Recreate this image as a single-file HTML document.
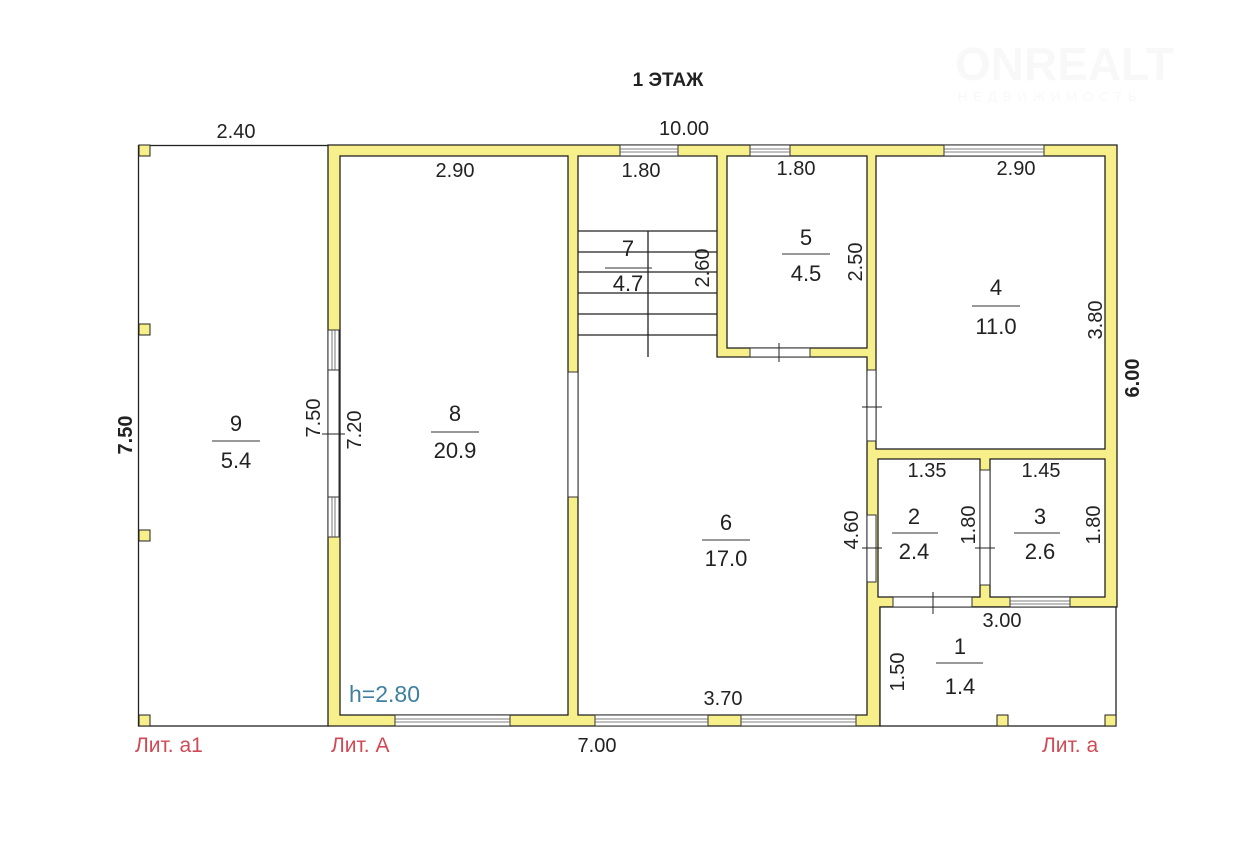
<!DOCTYPE html>
<html><head><meta charset="utf-8"><style>
html,body{margin:0;padding:0;background:#fff}
svg{display:block}
text{font-family:"Liberation Sans",sans-serif;fill:#222}
</style></head><body>
<svg width="1254" height="849" viewBox="0 0 1254 849" xmlns="http://www.w3.org/2000/svg">
<rect width="1254" height="849" fill="#fff"/>
<g opacity="0.5">
<text x="955" y="80" font-size="46" font-weight="bold" style="fill:#f2f2f2">ONREALT</text>
<text x="958" y="101" font-size="13" letter-spacing="6" style="fill:#f2f2f2">НЕДВИЖИМОСТЬ</text>
</g>
<text x="668" y="86" font-size="19" text-anchor="middle" font-weight="bold" style="fill:#222">1 ЭТАЖ</text>

<rect x="138.5" y="145.5" width="190" height="580.5" fill="none" stroke="#222" stroke-width="1.3"/>
<g fill="#f6ef8a" stroke="#222" stroke-width="1">
<rect x="139" y="145" width="11" height="11"/>
<rect x="139" y="324" width="11" height="11"/>
<rect x="139" y="530" width="11" height="11"/>
<rect x="139" y="715" width="11" height="11"/>
</g>

<polygon points="328,145 1117,145 1117,607 880,607 880,726 328,726" fill="#f6ef8a" stroke="#222" stroke-width="1.3"/>
<g fill="#fff" stroke="#222" stroke-width="1.3">
<rect x="340" y="156" width="228" height="559"/>
<polygon points="578,156 717,156 717,357 867,357 867,715 578,715"/>
<rect x="727" y="156" width="140" height="192"/>
<rect x="876" y="156" width="229" height="293"/>
<rect x="878" y="459" width="102" height="138"/>
<rect x="990" y="459" width="115" height="138"/>
<rect x="880" y="607" width="236" height="119"/>
</g>
<g fill="#f6ef8a" stroke="#222" stroke-width="1">
<rect x="997" y="715" width="11" height="11"/>
<rect x="1105" y="715" width="11" height="11"/>
</g>

<g stroke="#222" stroke-width="1.3">
<line x1="578" y1="231" x2="717" y2="231"/>
<line x1="578" y1="252" x2="717" y2="252"/>
<line x1="578" y1="272" x2="717" y2="272"/>
<line x1="578" y1="293" x2="717" y2="293"/>
<line x1="578" y1="314" x2="717" y2="314"/>
<line x1="578" y1="335" x2="717" y2="335"/>
<line x1="648" y1="231" x2="648" y2="357"/>
</g>

<g fill="#fff" stroke="#333" stroke-width="1">
<rect x="620" y="145" width="58" height="11"/>
<rect x="750" y="145" width="40" height="11"/>
<rect x="944" y="145" width="100" height="11"/>
<rect x="395" y="715" width="115" height="11"/>
<rect x="595" y="715" width="113" height="11"/>
<rect x="741" y="715" width="115" height="11"/>
<rect x="1010" y="597" width="60" height="10"/>
<rect x="893" y="597" width="79" height="10"/>
<rect x="750" y="348" width="60" height="9"/>
<rect x="328" y="330" width="11" height="40"/>
<rect x="328" y="370" width="11" height="127"/>
<rect x="328" y="497" width="11" height="40"/>
<rect x="568" y="372" width="10" height="125"/>
<rect x="867" y="370" width="9" height="71"/>
<rect x="867" y="515" width="9" height="67"/>
<rect x="980" y="470" width="10" height="115"/>
</g>
<g stroke="#555" stroke-width="0.8">
<line x1="620" y1="149" x2="678" y2="149"/><line x1="620" y1="152" x2="678" y2="152"/>
<line x1="750" y1="149" x2="790" y2="149"/><line x1="750" y1="152" x2="790" y2="152"/>
<line x1="944" y1="149" x2="1044" y2="149"/><line x1="944" y1="152" x2="1044" y2="152"/>
<line x1="395" y1="719" x2="510" y2="719"/><line x1="395" y1="722" x2="510" y2="722"/>
<line x1="595" y1="719" x2="708" y2="719"/><line x1="595" y1="722" x2="708" y2="722"/>
<line x1="741" y1="719" x2="856" y2="719"/><line x1="741" y1="722" x2="856" y2="722"/>
<line x1="1010" y1="601" x2="1070" y2="601"/><line x1="1010" y1="604" x2="1070" y2="604"/>
<line x1="332" y1="330" x2="332" y2="370"/><line x1="335" y1="330" x2="335" y2="370"/>
<line x1="332" y1="497" x2="332" y2="537"/><line x1="335" y1="497" x2="335" y2="537"/>
</g>
<g stroke="#222" stroke-width="1">
<line x1="322" y1="434" x2="345" y2="434"/>
<line x1="779" y1="343" x2="779" y2="362"/>
<line x1="862" y1="407" x2="882" y2="407"/>
<line x1="862" y1="548" x2="882" y2="548"/>
<line x1="933" y1="592" x2="933" y2="614"/>
<line x1="975" y1="548" x2="995" y2="548"/>
</g>

<g font-size="20" text-anchor="middle">
<text x="236" y="138">2.40</text>
<text x="684" y="135">10.00</text>
<text x="455" y="177">2.90</text>
<text x="641" y="177">1.80</text>
<text x="796" y="175">1.80</text>
<text x="1016" y="175">2.90</text>
<text x="927" y="477">1.35</text>
<text x="1041" y="477">1.45</text>
<text x="1002" y="627">3.00</text>
<text x="723" y="705">3.70</text>
<text x="597" y="752">7.00</text>
</g>
<g font-size="22" text-anchor="middle">
<text x="236" y="431">9</text><text x="236" y="468">5.4</text>
<text x="455" y="421">8</text><text x="455" y="458">20.9</text>
<text x="628" y="256">7</text><text x="628" y="291">4.7</text>
<text x="806" y="245">5</text><text x="806" y="281">4.5</text>
<text x="996" y="295">4</text><text x="996" y="334">11.0</text>
<text x="726" y="530">6</text><text x="726" y="566">17.0</text>
<text x="914" y="524">2</text><text x="914" y="559">2.4</text>
<text x="1040" y="524">3</text><text x="1040" y="559">2.6</text>
<text x="960" y="654">1</text><text x="960" y="694">1.4</text>
</g>
<g stroke="#333" stroke-width="1">
<line x1="212" y1="441" x2="260" y2="441"/>
<line x1="431" y1="432" x2="479" y2="432"/>
<line x1="605" y1="268" x2="652" y2="268"/>
<line x1="782" y1="254" x2="830" y2="254"/>
<line x1="972" y1="306" x2="1020" y2="306"/>
<line x1="702" y1="540" x2="750" y2="540"/>
<line x1="892" y1="533" x2="938" y2="533"/>
<line x1="1014" y1="533" x2="1060" y2="533"/>
<line x1="936" y1="663" x2="983" y2="663"/>
</g>
<g font-size="20" text-anchor="middle">
<text transform="translate(132,435) rotate(-90)" font-weight="bold">7.50</text>
<text transform="translate(320,418) rotate(-90)">7.50</text>
<text transform="translate(361,430) rotate(-90)">7.20</text>
<text transform="translate(709,268) rotate(-90)">2.60</text>
<text transform="translate(862,262) rotate(-90)">2.50</text>
<text transform="translate(1102,320) rotate(-90)">3.80</text>
<text transform="translate(1139,378) rotate(-90)" font-weight="bold">6.00</text>
<text transform="translate(858,530) rotate(-90)">4.60</text>
<text transform="translate(975,525) rotate(-90)">1.80</text>
<text transform="translate(1100,525) rotate(-90)">1.80</text>
<text transform="translate(904,672) rotate(-90)">1.50</text>
</g>
<text x="349" y="702" font-size="23" style="fill:#3f7f9f">h=2.80</text>
<g font-size="21">
<text x="135" y="752" style="fill:#d04a55">Лит. а1</text>
<text x="331" y="752" style="fill:#d04a55">Лит. А</text>
<text x="1042" y="752" style="fill:#d04a55">Лит. а</text>
</g>
</svg>
</body></html>
